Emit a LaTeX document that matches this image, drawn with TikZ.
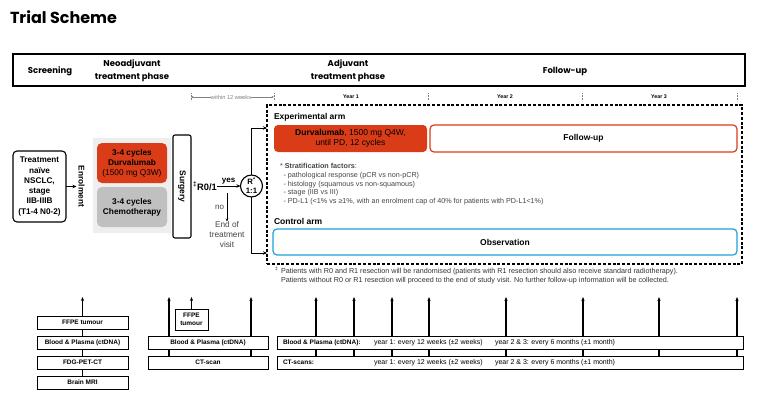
\documentclass[tikz,border=0pt]{standalone}
\usepackage{fontspec}
\setmainfont{Liberation Sans}
\newfontfamily\pop{Poppins}
\usetikzlibrary{arrows.meta}
\definecolor{dred}{RGB}{218,60,24}
\definecolor{lgray}{RGB}{238,238,238}
\definecolor{mgray}{RGB}{192,192,192}
\definecolor{oblue}{RGB}{30,160,220}
\definecolor{txtg}{RGB}{70,70,70}
\newcommand\fsz[2]{\fontsize{#1}{#2}\selectfont}
\begin{document}
\begin{tikzpicture}[x=1pt,y=-1pt,
 every node/.style={inner sep=0pt, outer sep=0pt},
 hdr/.style={font=\pop\bfseries\fsz{8.5}{12.5}, align=center},
 flowbox/.style={draw, line width=1.1pt, rounded corners=4pt, align=center, font=\bfseries\fsz{8.2}{10.3}},
 neobox/.style={rounded corners=5pt, minimum width=70pt, minimum height=40pt, anchor=north west, align=center, font=\fsz{8.3}{10}},
 arm/.style={rounded corners=4pt, align=center, font=\fsz{8.5}{10}, line width=1.2pt, anchor=north west},
 armlabel/.style={font=\bfseries\fsz{8.5}{10}, anchor=west},
 yearlbl/.style={font=\bfseries\fsz{5.3}{6}},
 ytick/.style={gray, densely dotted, line width=0.6pt},
 small/.style={font=\fsz{7.2}{8.7}, text=txtg, align=left, anchor=north west},
 bbox/.style={draw, line width=1pt, font=\bfseries\fsz{6.5}{8}, minimum height=13pt, anchor=north west, align=center},
 rtxt/.style={anchor=west, font=\fsz{7}{8}},
 barrow/.style={line width=1.1pt, -{Stealth[length=4pt,width=3.2pt]}},
 bline/.style={line width=1.1pt},
 flow/.style={line width=0.9pt, -{Stealth[length=4pt,width=3.5pt]}},
]
\useasboundingbox (0,0) rectangle (760,404);
\fill[white] (0,0) rectangle (760,404);

% title
\node[anchor=west, font=\pop\bfseries\fsz{16}{20}] (title) at (10,17) {Trial Scheme};

% header bar
\node[draw, line width=1.4pt, minimum width=732pt, minimum height=32pt, anchor=north west] (hdrbox) at (13,54) {};
\node[hdr] (hscr) at (50,71) {Screening};
\node[hdr] (hneo) at (132,70.5) {Neoadjuvant\\treatment phase};
\node[hdr] (hadj) at (348,70.5) {Adjuvant\\treatment phase};
\node[hdr] (hfu) at (565,71) {Follow-up};

% timeline
\foreach \x in {191,274,428,582,737} \draw[ytick] (\x,93) -- (\x,101);
\node[font=\fsz{5.7}{6}, text=gray] (w12) at (231,97) {within 12 weeks};
\coordinate (w12a) at (191,97);
\coordinate (w12b) at (274,97);
\draw[gray, line width=0.5pt, -{Stealth[length=2.5pt,width=2.2pt]}] (w12.west) -- (w12a);
\draw[gray, line width=0.5pt, -{Stealth[length=2.5pt,width=2.2pt]}] (w12.east) -- (w12b);
\node[yearlbl] (y1) at (351,97) {Year 1};
\node[yearlbl] (y2) at (505,97) {Year 2};
\node[yearlbl] (y3) at (659,97) {Year 3};

% left flow
\node[flowbox, minimum width=53pt, minimum height=71pt, anchor=north west] (tn) at (13,151) {Treatment\\naïve\\NSCLC,\\stage\\IIB-IIIB\\(T1-4 N0-2)};
\node[rotate=-90, font=\bfseries\fsz{8.3}{9}] (enrol) at (81.5,186.5) {Enrolment};
\coordinate (enrolin) at (76.5,186.5);
\draw[flow] (tn.east) -- (enrolin);

\node[fill=lgray, minimum width=78pt, minimum height=95pt, anchor=north west] (neobg) at (93,138) {};
\node[neobox, fill=dred] (neodur) at (97,143) {\textbf{3-4 cycles}\\\textbf{Durvalumab}\\(1500 mg Q3W)};
\node[neobox, fill=mgray] (neochemo) at (97,187) {\textbf{3-4 cycles}\\\textbf{Chemotherapy}};

\node[draw, line width=1.1pt, rounded corners=2pt, rotate=-90, minimum width=103pt, minimum height=18pt, font=\bfseries\fsz{8.5}{9}] (surg) at (182,186.5) {Surgery};

\node[font=\bfseries\fsz{9.3}{10}, anchor=west] (r01) at (193,186) {\textsuperscript{‡}R0/1};
\node[draw, circle, line width=1.1pt, minimum size=22pt, align=center, font=\bfseries\fsz{7.8}{9}] (rand) at (251.5,186) {R\textsuperscript{*}\\1:1};
\draw[flow] (r01.east) -- node[above=1.5pt, font=\bfseries\fsz{8}{8}] (yes) {yes} (rand.west);

\coordinate (nostart) at (227,193);
\node[font=\fsz{8.3}{10}, align=center, text=txtg, anchor=north] (eot) at (227,221.5) {End of\\treatment\\visit};
\draw[line width=0.5pt, -{Stealth[length=3pt,width=2.5pt]}] (nostart) -- node[left=3pt, font=\fsz{8}{8}, text=txtg] (no) {no} (eot.north);

\coordinate (expin) at (267,128);
\coordinate (ctlin) at (267,253);
\draw[flow] (rand.north) |- (expin);
\draw[flow] (rand.south) |- (ctlin);

% randomised arms
\node[draw, dash pattern=on 3pt off 1.8pt, line width=1.3pt, minimum width=475pt, minimum height=159pt, anchor=north west] (rbox) at (267,105) {};
\node[armlabel] (explbl) at (274,117) {Experimental arm};
\node[arm, fill=dred, minimum width=153pt, minimum height=27pt] (durv) at (274,125) {\textbf{Durvalumab}, 1500 mg Q4W,\\until PD, 12 cycles};
\node[arm, draw=dred, minimum width=307pt, minimum height=27pt, font=\bfseries\fsz{8.5}{10}] (fu) at (430,125) {Follow-up};
\node[small] (strat) at (280,163.5) {* \textbf{Stratification factors}:\\
\hspace{3.5pt}- pathological response (pCR vs non-pCR)\\
\hspace{3.5pt}- histology (squamous vs non-squamous)\\
\hspace{3.5pt}- stage (IIB vs III)\\
\hspace{3.5pt}- PD-L1 (<1\% vs ≥1\%, with an enrolment cap of 40\% for patients with PD-L1<1\%)};
\node[armlabel] (ctllbl) at (274,221) {Control arm};
\node[arm, draw=oblue, minimum width=464pt, minimum height=26pt, font=\bfseries\fsz{8.5}{10}] (obs) at (273,229) {Observation};

\node[small, font=\fsz{7.2}{9}, text=black!80] (fn) at (275,266.5) {\makebox[6pt][l]{\textsuperscript{‡}}Patients with R0 and R1 resection will be randomised (patients with R1 resection should also receive standard radiotherapy).\\
\hspace{6pt}Patients without R0 or R1 resection will proceed to the end of study visit. No further follow-up information will be collected.};

% bottom: screening column
\node[bbox, minimum width=91pt] (s1) at (37,316) {FFPE tumour};
\node[bbox, minimum width=91pt] (s2) at (37,336) {Blood \& Plasma (ctDNA)};
\node[bbox, minimum width=91pt] (s3) at (37,356) {FDG-PET-CT};
\node[bbox, minimum width=91pt] (s4) at (37,376) {Brain MRI};
\draw[bline] (s1.south) -- (s2.north);
\draw[bline] (s2.south) -- (s3.north);
\draw[bline] (s3.south) -- (s4.north);
\coordinate (s0) at (82.5,297);
\draw[barrow] (s1.north) -- (s0);

% bottom: surgery column
\node[bbox, minimum width=120pt] (m1) at (148,336) {Blood \& Plasma (ctDNA)};
\node[bbox, minimum width=120pt] (m2) at (148,356) {CT-scan};
\node[bbox, minimum width=33pt, minimum height=21pt] (mf) at (175,309) {FFPE\\tumour};
\coordinate (mf0) at (191.5,297);
\draw[barrow] (mf.north) -- (mf0);
\foreach \x [count=\i] in {169,251} {
  \coordinate (ma\i) at (\x,297);
  \draw[bline] (m2.north -| ma\i) -- (m1.south -| ma\i);
  \draw[barrow] (m1.north -| ma\i) -- (ma\i);
}

% bottom: adjuvant / follow-up column
\node[bbox, minimum width=466pt] (r1) at (277,336) {};
\node[bbox, minimum width=466pt] (r2) at (277,356) {};
\node[rtxt, font=\bfseries\fsz{6.5}{8}] (r1a) at (283,342.5) {Blood \& Plasma (ctDNA):};
\node[rtxt] (r1b) at (374,342.5) {year 1: every 12 weeks (±2 weeks)};
\node[rtxt] (r1c) at (495,342.5) {year 2 \& 3: every 6 months (±1 month)};
\node[rtxt, font=\bfseries\fsz{6.5}{8}] (r2a) at (283,362.5) {CT-scans:};
\node[rtxt] (r2b) at (374,362.5) {year 1: every 12 weeks (±2 weeks)};
\node[rtxt] (r2c) at (495,362.5) {year 2 \& 3: every 6 months (±1 month)};
\foreach \x [count=\i] in {316,354,392,429,506,583,659,737} {
  \coordinate (ra\i) at (\x,297);
  \draw[bline] (r2.north -| ra\i) -- (r1.south -| ra\i);
  \draw[barrow] (r1.north -| ra\i) -- (ra\i);
}
\end{tikzpicture}
\end{document}
